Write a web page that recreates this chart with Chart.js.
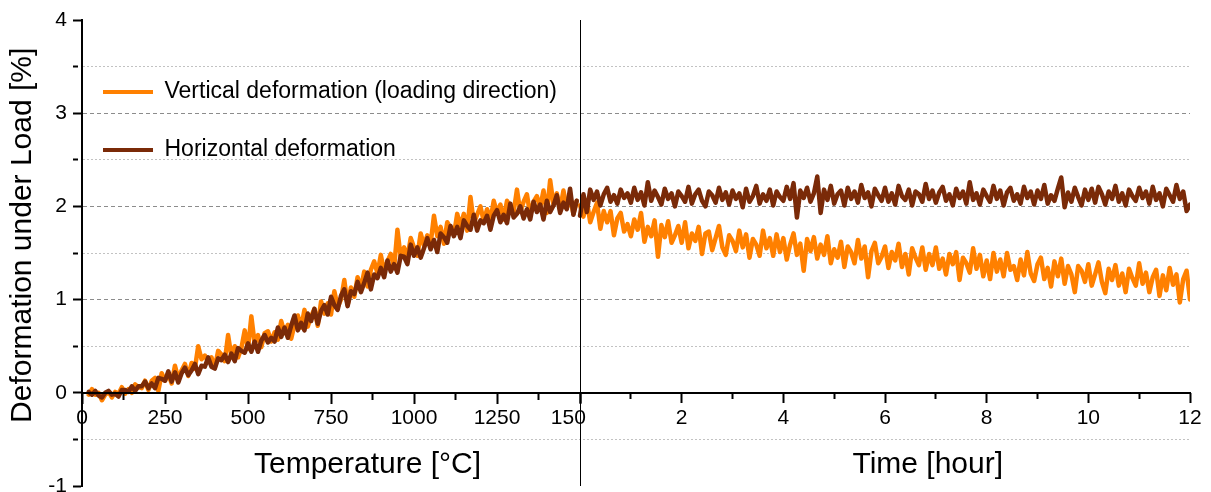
<!DOCTYPE html>
<html>
<head>
<meta charset="utf-8">
<title>Deformation under Load</title>
<style>
  html, body { margin: 0; padding: 0; background: #ffffff; }
  #wrap { width: 1211px; height: 492px; }
</style>
<script src="https://cdn.jsdelivr.net/npm/chart.js@4.4.1/dist/chart.umd.min.js"></script>
</head>
<body>
<div id="wrap"><canvas id="chart" width="1211" height="492"></canvas></div>
<script>
// ---- data -----------------------------------------------------------------
// Heating stage: one sample every 10 °C from 20 °C to 1490 °C.
const tempStart = 20;
const tempStep = 10;
const vertTemp = [
  -0.02, 0.04, -0.02, 0.00, -0.08, -0.02, 0.01, -0.05, 0.01, -0.01,
  0.06, -0.01, 0.04, 0.00, 0.09, 0.06, 0.05, 0.13, 0.03, 0.13,
  0.16, 0.02, 0.21, 0.13, 0.20, 0.10, 0.29, 0.15, 0.24, 0.31,
  0.18, 0.32, 0.26, 0.50, 0.36, 0.40, 0.33, 0.38, 0.27, 0.45,
  0.41, 0.34, 0.62, 0.39, 0.50, 0.38, 0.48, 0.67, 0.47, 0.82,
  0.53, 0.62, 0.49, 0.64, 0.66, 0.55, 0.65, 0.57, 0.77, 0.64,
  0.73, 0.58, 0.73, 0.83, 0.70, 0.89, 0.71, 0.82, 0.90, 0.72,
  0.98, 0.85, 0.96, 0.84, 1.09, 0.92, 1.00, 1.21, 0.94, 1.13,
  1.03, 1.24, 1.12, 1.30, 1.14, 1.32, 1.41, 1.28, 1.48, 1.30,
  1.41, 1.49, 1.34, 1.75, 1.45, 1.56, 1.45, 1.66, 1.56, 1.47,
  1.71, 1.58, 1.69, 1.60, 1.90, 1.68, 1.78, 1.60, 1.83, 1.77,
  1.69, 1.92, 1.79, 1.92, 1.74, 2.10, 1.82, 1.91, 2.00, 1.84,
  1.97, 1.85, 2.06, 1.93, 2.02, 1.86, 2.06, 1.99, 1.94, 2.18,
  1.94, 2.05, 2.13, 1.91, 2.05, 2.11, 1.99, 2.17, 1.93, 2.28,
  2.02, 2.14, 1.97, 2.17, 1.98, 2.10, 1.92, 2.06
];
const horizTemp = [
  0.01, -0.02, 0.02, -0.03, -0.05, 0.00, 0.02, -0.02, -0.01, -0.04,
  0.03, 0.03, 0.01, 0.07, 0.02, 0.07, 0.07, 0.12, 0.05, 0.10,
  0.05, 0.16, 0.15, 0.13, 0.23, 0.12, 0.22, 0.11, 0.21, 0.27,
  0.19, 0.24, 0.31, 0.20, 0.29, 0.28, 0.38, 0.28, 0.26, 0.37,
  0.35, 0.41, 0.33, 0.42, 0.34, 0.48, 0.45, 0.43, 0.53, 0.44,
  0.55, 0.44, 0.56, 0.62, 0.54, 0.59, 0.55, 0.70, 0.60, 0.70,
  0.59, 0.72, 0.83, 0.67, 0.75, 0.67, 0.85, 0.77, 0.90, 0.74,
  0.88, 0.94, 0.84, 1.03, 0.94, 0.89, 1.04, 1.11, 0.93, 1.09,
  1.06, 1.19, 1.08, 1.18, 1.29, 1.11, 1.27, 1.23, 1.34, 1.24,
  1.42, 1.30, 1.38, 1.29, 1.47, 1.46, 1.38, 1.59, 1.47, 1.56,
  1.45, 1.55, 1.66, 1.54, 1.64, 1.51, 1.71, 1.67, 1.61, 1.79,
  1.68, 1.78, 1.66, 1.85, 1.79, 1.75, 1.91, 1.74, 1.85, 1.82,
  1.90, 1.75, 1.90, 1.96, 1.83, 1.91, 1.82, 2.03, 1.88, 1.92,
  2.00, 1.87, 1.97, 1.86, 2.05, 1.94, 2.02, 1.86, 2.06, 1.94,
  2.01, 2.12, 1.93, 2.04, 1.97, 2.19, 1.91, 2.06
];

// Holding stage: one sample every 4 minutes from 0 h to 12 h (15 per hour).
const timeStepMinutes = 4;
const vertTime = [
  2.01, 1.89, 2.06, 1.83, 1.94, 2.04, 1.76, 1.95, 1.83, 1.95, 1.69, 1.87, 1.93, 1.73, 1.81,
  1.68, 1.86, 1.75, 1.93, 1.62, 1.78, 1.68, 1.85, 1.46, 1.80, 1.67, 1.84, 1.61, 1.69, 1.79,
  1.61, 1.83, 1.55, 1.71, 1.63, 1.78, 1.49, 1.71, 1.73, 1.53, 1.66, 1.79, 1.56, 1.48, 1.69,
  1.63, 1.52, 1.74, 1.56, 1.70, 1.45, 1.65, 1.59, 1.47, 1.74, 1.55, 1.66, 1.47, 1.70, 1.51,
  1.66, 1.43, 1.59, 1.71, 1.48, 1.60, 1.31, 1.65, 1.52, 1.67, 1.44, 1.59, 1.48, 1.68, 1.39,
  1.54, 1.45, 1.62, 1.35, 1.57, 1.51, 1.39, 1.64, 1.44, 1.57, 1.24, 1.52, 1.61, 1.39, 1.46,
  1.57, 1.34, 1.51, 1.42, 1.60, 1.35, 1.49, 1.27, 1.55, 1.45, 1.37, 1.56, 1.32, 1.49, 1.37,
  1.56, 1.33, 1.44, 1.27, 1.49, 1.38, 1.51, 1.21, 1.45, 1.39, 1.29, 1.55, 1.33, 1.48, 1.25,
  1.42, 1.22, 1.50, 1.30, 1.43, 1.25, 1.50, 1.32, 1.36, 1.21, 1.43, 1.26, 1.51, 1.28, 1.20,
  1.38, 1.45, 1.22, 1.34, 1.14, 1.41, 1.25, 1.44, 1.17, 1.36, 1.27, 1.08, 1.36, 1.31, 1.19,
  1.38, 1.15, 1.27, 1.40, 1.19, 1.07, 1.33, 1.21, 1.37, 1.15, 1.28, 1.08, 1.33, 1.23, 1.15,
  1.39, 1.17, 1.29, 1.08, 1.24, 1.32, 1.04, 1.26, 1.10, 1.34, 1.16, 1.27, 0.97, 1.22, 1.31,
  1.00
];
const horizTime = [
  1.90, 2.13, 1.94, 2.18, 2.07, 2.16, 2.01, 2.13, 2.20, 2.05, 2.12, 2.03, 2.18, 2.09, 2.14,
  2.04, 2.20, 2.07, 2.15, 2.01, 2.26, 2.06, 2.17, 2.10, 2.02, 2.19, 2.08, 2.14, 2.00, 2.16,
  2.11, 2.05, 2.21, 2.03, 2.13, 2.18, 2.06, 2.00, 2.16, 2.12, 2.04, 2.20, 2.07, 2.15, 2.02,
  2.17, 2.08, 2.14, 1.99, 2.19, 2.05, 2.11, 2.22, 2.03, 2.13, 2.06, 2.18, 2.01, 2.16, 2.10,
  2.06, 2.21, 2.08, 2.25, 1.88, 2.17, 2.09, 2.20, 2.05, 2.14, 2.32, 1.93, 2.18, 2.07, 2.22,
  2.03, 2.13, 2.17, 2.01, 2.20, 2.08, 2.16, 2.04, 2.23, 2.09, 2.15, 2.00, 2.19, 2.12, 2.06,
  2.20, 2.05, 2.14, 2.02, 2.22, 2.11, 2.07, 2.18, 2.01, 2.16, 2.13, 2.05, 2.24, 2.08, 2.17,
  2.04, 2.15, 2.21, 2.06, 2.13, 2.01, 2.19, 2.09, 2.16, 2.03, 2.26, 2.07, 2.14, 2.02, 2.18,
  2.11, 2.05, 2.22, 2.08, 2.17, 2.01, 2.15, 2.20, 2.06, 2.13, 2.03, 2.21, 2.09, 2.16, 2.02,
  2.17, 2.08, 2.23, 2.03, 2.12, 2.06, 2.19, 2.31, 1.99, 2.15, 2.05, 2.20, 2.10, 2.01, 2.18,
  2.07, 2.19, 2.04, 2.21, 2.13, 2.02, 2.16, 2.08, 2.22, 2.05, 2.14, 2.01, 2.18, 2.11, 2.06,
  2.20, 2.09, 2.16, 2.03, 2.21, 2.07, 2.14, 2.00, 2.19, 2.12, 2.05, 2.23, 2.08, 2.16, 1.95,
  2.02
];

// Tick positions (the major ones carry a label)
const tempTicks = [0, 125, 250, 375, 500, 625, 750, 875, 1000, 1125, 1250, 1375, 1500];
const tempMajor = [0, 250, 500, 750, 1000, 1250, 1500];
const timeTicks = [0, 1, 2, 3, 4, 5, 6, 7, 8, 9, 10, 11, 12];
const timeMajor = [0, 2, 4, 6, 8, 10, 12];
const yTicks = [-1, -0.5, 0, 0.5, 1, 1.5, 2, 2.5, 3, 3.5, 4];
const yMajor = [-1, 0, 1, 2, 3, 4];

const seriesNames = ['Vertical deformation (loading direction)', 'Horizontal deformation'];

// ---- layout helpers ---------------------------------------------------------
const ORANGE = '#ff8000';
const BROWN = '#7a2a08';
const FONT = '"Liberation Sans", Arial, Helvetica, sans-serif';
const TEMP_MAX = 1500;
const TIME_MAX = 12;
const tempShare = 0.4495;              // part of the plot width used by the heating stage

const tempX = vertTemp.map((_, i) => tempStart + i * tempStep);
const timeX = vertTime.map((_, i) => (i * timeStepMinutes) / 60);
const toPoints = (xs, ys) => ys.map((y, i) => ({ x: xs[i], y }));
const isWhole = v => Math.abs(v - Math.round(v)) < 1e-9;
const CLEAR = 'rgba(0,0,0,0)';

function lineSet(label, color, xs, ys, axis, order) {
  return {
    label, order,
    data: toPoints(xs, ys),
    xAxisID: axis, yAxisID: 'y',
    borderColor: color, backgroundColor: color,
    borderWidth: 4.5, pointRadius: 0, pointHoverRadius: 0,
    tension: 0, borderJoinStyle: 'round', borderCapStyle: 'round'
  };
}

function setTicks(values) {
  return scale => { scale.ticks = values.map(v => ({ value: v })); };
}

// Axis captions, anchored to data positions on their scales
const captionPlugin = {
  id: 'captions',
  afterDraw(chart) {
    const { ctx, scales } = chart;
    const y0 = scales.y.getPixelForValue(0);
    ctx.save();
    ctx.fillStyle = '#000';
    ctx.font = '30px ' + FONT;
    ctx.textAlign = 'center';
    ctx.textBaseline = 'alphabetic';
    ctx.fillText('Temperature [°C]', scales.xTemp.getPixelForValue(860), y0 + 80);
    ctx.fillText('Time [hour]', scales.xTime.getPixelForValue(6.84), y0 + 80);
    ctx.translate(chart.chartArea.left - 59.5, scales.y.getPixelForValue(1.69));
    ctx.rotate(-Math.PI / 2);
    ctx.textBaseline = 'middle';
    ctx.fillText('Deformation under Load [%]', 0, 0);
    ctx.restore();
  }
};

// Keeps the legend block in the upper left corner of the plot
const legendPlacement = {
  id: 'legendPlacement',
  beforeDraw(chart) {
    const lg = chart.legend;
    if (!lg) return;
    const a = chart.chartArea;
    lg.left = a.left - 14;
    lg.top = a.top + 25.5;
    lg.right = a.right;
    lg.bottom = a.bottom;
    lg.width = lg.right - lg.left;
    lg.height = lg.bottom - lg.top;
  }
};

const tickFont = { family: FONT, size: 21 };

new Chart(document.getElementById('chart'), {
  type: 'line',
  data: {
    datasets: [
      lineSet(seriesNames[0], ORANGE, tempX, vertTemp, 'xTemp', 2),
      lineSet(seriesNames[1], BROWN, tempX, horizTemp, 'xTemp', 1),
      lineSet(seriesNames[0], ORANGE, timeX, vertTime, 'xTime', 2),
      lineSet(seriesNames[1], BROWN, timeX, horizTime, 'xTime', 1)
    ]
  },
  options: {
    responsive: false,
    animation: false,
    devicePixelRatio: 1,
    events: [],
    layout: { padding: { left: 0, top: 20, right: 21, bottom: 6 } },
    plugins: {
      tooltip: { enabled: false },
      title: { display: false },
      legend: {
        display: true,
        position: 'chartArea',
        align: 'start',
        labels: {
          color: '#000',
          font: { family: FONT, size: 23 },
          boxWidth: 50,
          boxHeight: 4,
          padding: 35,
          generateLabels(chart) {
            return Chart.defaults.plugins.legend.labels.generateLabels(chart)
              .filter(item => item.datasetIndex < 2)
              .sort((a, b) => a.datasetIndex - b.datasetIndex)
              .map(item => Object.assign(item, { lineWidth: 0 }));
          }
        }
      }
    },
    scales: {
      y: {
        type: 'linear',
        position: 'left',
        min: -1,
        max: 4,
        afterBuildTicks: setTicks(yTicks),
        afterFit(s) { s.width = 82; s.paddingTop = 0; s.paddingBottom = 0; },
        ticks: {
          autoSkip: false,
          padding: 6,
          color: '#000',
          font: tickFont,
          callback: v => (yMajor.includes(v) ? String(v) : '')
        },
        grid: {
          color: c => {
            const v = c.tick ? c.tick.value : 0;
            if (v <= -1 || v === 0 || v >= 4) return CLEAR;
            return isWhole(v) ? '#8c8c8c' : '#c2c2c2';
          },
          lineWidth: 1,
          tickLength: 9,
          tickWidth: 2,
          tickColor: '#000',
          tickBorderDash: c => (c.tick && !isWhole(c.tick.value) ? [5, 30] : [])
        },
        border: {
          display: true,
          color: '#000',
          width: 2,
          dash: c => (c.tick ? (isWhole(c.tick.value) ? [4, 3] : [2, 2]) : [])
        }
      },
      xTemp: {
        type: 'linear',
        axis: 'x',
        position: { y: 0 },
        min: 0,
        max: TEMP_MAX / tempShare,
        afterBuildTicks: setTicks(tempTicks),
        afterFit(s) { s.height = 0; s.paddingLeft = 0; s.paddingRight = 0; },
        ticks: {
          autoSkip: false,
          maxRotation: 0,
          minRotation: 0,
          padding: 3,
          color: '#000',
          font: tickFont,
          // only the leading digits of 1500 stay clear of the time axis origin
          callback: v => (v === TEMP_MAX ? '15      ' : (tempMajor.includes(v) ? String(v) : ''))
        },
        grid: {
          z: 1,
          color: c => (c.tick && c.tick.value === TEMP_MAX ? '#000' : CLEAR),
          lineWidth: 1,
          tickLength: 10,
          tickWidth: 2,
          tickColor: '#000',
          tickBorderDash: c => (c.tick && !tempMajor.includes(c.tick.value) ? [6, 30] : [])
        },
        border: { display: true, color: '#000', width: 2, z: 1 }
      },
      xTime: {
        type: 'linear',
        axis: 'x',
        position: { y: 0 },
        min: -TIME_MAX * tempShare / (1 - tempShare),
        max: TIME_MAX,
        afterBuildTicks: setTicks(timeTicks),
        afterFit(s) { s.height = 0; s.paddingLeft = 0; s.paddingRight = 0; },
        ticks: {
          autoSkip: false,
          maxRotation: 0,
          minRotation: 0,
          padding: 3,
          color: '#000',
          font: tickFont,
          callback: v => (timeMajor.includes(v) ? String(v) : '')
        },
        grid: {
          drawOnChartArea: false,
          tickLength: 10,
          tickWidth: 2,
          tickColor: '#000',
          tickBorderDash: c => (c.tick && !timeMajor.includes(c.tick.value) ? [6, 30] : [])
        },
        border: { display: false }
      }
    }
  },
  plugins: [legendPlacement, captionPlugin]
});
</script>
</body>
</html>
